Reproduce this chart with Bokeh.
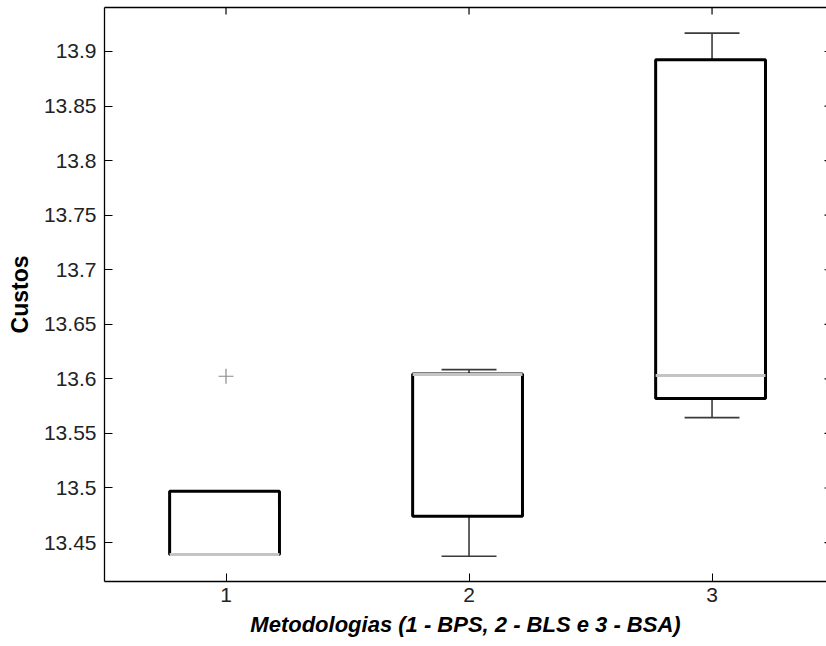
import math
from bokeh.plotting import figure
from bokeh.models import Range1d, FixedTicker, LinearAxis
from bokeh.embed import file_html
from bokeh.resources import INLINE

# ---- data ----
methods = [1, 2, 3]
q1 = [13.439, 13.474, 13.582]
medians = [13.439, 13.604, 13.603]
q3 = [13.497, 13.6045, 13.8925]
lower_whisker = [13.439, 13.4375, 13.5645]
upper_whisker = [13.497, 13.6085, 13.9168]
outlier_x = [1]
outlier_y = [13.6024]

y_ticks = [13.45, 13.5, 13.55, 13.6, 13.65, 13.7, 13.75, 13.8, 13.85, 13.9]
y_tick_labels = ["13.45", "13.5", "13.55", "13.6", "13.65", "13.7", "13.75", "13.8", "13.85", "13.9"]
x_ticks = [1, 2, 3]
x_tick_labels = ["1", "2", "3"]
x_label = "Metodologias (1 - BPS, 2 - BLS e 3 - BSA)"
y_label = "Custos"

X_MIN, X_MAX = 0.5, 3.471
Y_MIN, Y_MAX = 13.4143, 13.9403

# ---- figure ----
p = figure(width=826, height=646, output_backend="svg", toolbar_location=None,
           x_range=Range1d(X_MIN, X_MAX), y_range=Range1d(Y_MIN, Y_MAX),
           min_border_left=104, min_border_bottom=65, min_border_top=7, min_border_right=0)
p.outline_line_color = None
p.xgrid.visible = False
p.ygrid.visible = False
p.background_fill_color = "white"
p.border_fill_color = "white"

FONT = "Liberation Sans"
TXT = "#222222"

for ax in (p.xaxis[0], p.yaxis[0]):
    ax.axis_line_color = "black"
    ax.axis_line_width = 1.3
    ax.major_tick_in = 8
    ax.major_tick_out = 0
    ax.major_tick_line_color = "black"
    ax.minor_tick_line_color = None
    ax.major_label_text_font = FONT
    ax.major_label_text_font_size = "21px"
    ax.major_label_text_color = TXT
    ax.axis_label_text_font = FONT
    ax.axis_label_text_font_style = "bold"
    ax.axis_label_text_color = "black"

p.xaxis.ticker = FixedTicker(ticks=x_ticks)
p.xaxis.major_label_overrides = dict(zip(x_ticks, x_tick_labels))
p.xaxis.major_label_standoff = 6
p.xaxis.axis_label = x_label
p.xaxis.axis_label_text_font_style = "bold italic"
p.xaxis.axis_label_text_font_size = "22px"
p.xaxis.axis_label_standoff = 7

p.yaxis.ticker = FixedTicker(ticks=y_ticks)
p.yaxis.major_label_overrides = dict(zip(y_ticks, y_tick_labels))
p.yaxis.major_label_standoff = 8
p.yaxis.axis_label = y_label
p.yaxis.axis_label_text_font_size = "23px"
p.yaxis.axis_label_standoff = 8

# top border (line only)
top = LinearAxis(ticker=FixedTicker(ticks=[]), minor_tick_line_color=None,
                 axis_line_color="black", axis_line_width=1.3)
p.add_layout(top, "above")

# inward tick marks on the top and right borders (half of each dash is clipped by the frame)
p.scatter(x=x_ticks, y=[Y_MAX] * len(x_ticks), marker="dash", angle=math.pi / 2, size=14,
          line_color="black", line_width=1.2)
p.scatter(x=[X_MAX] * len(y_ticks), y=y_ticks, marker="dash", size=4,
          line_color="black", line_width=1.2)

# ---- boxes ----
BOX_L, BOX_R = 0.232, 0.22
CAP = 0.113
xs = methods
WH = "#3a3a3a"
p.segment(x0=xs, y0=q3, x1=xs, y1=upper_whisker, line_color=WH, line_width=1.6)
p.segment(x0=xs, y0=q1, x1=xs, y1=lower_whisker, line_color=WH, line_width=1.6)
p.segment(x0=[x - CAP for x in xs], y0=upper_whisker, x1=[x + CAP for x in xs], y1=upper_whisker,
          line_color=WH, line_width=1.6)
p.segment(x0=[x - CAP for x in xs], y0=lower_whisker, x1=[x + CAP for x in xs], y1=lower_whisker,
          line_color=WH, line_width=1.6)
p.quad(left=[x - BOX_L for x in xs], right=[x + BOX_R for x in xs], bottom=q1, top=q3,
       fill_color=None, line_color="black", line_width=3)
p.segment(x0=[x - BOX_L for x in xs], y0=medians, x1=[x + BOX_R for x in xs], y1=medians,
          line_color="#c4c4c4", line_width=3)
p.scatter(x=outlier_x, y=outlier_y, marker="cross", size=15, line_color="#8a8a8a", line_width=1.2)

open("out.html", "w").write(file_html(p, INLINE))
